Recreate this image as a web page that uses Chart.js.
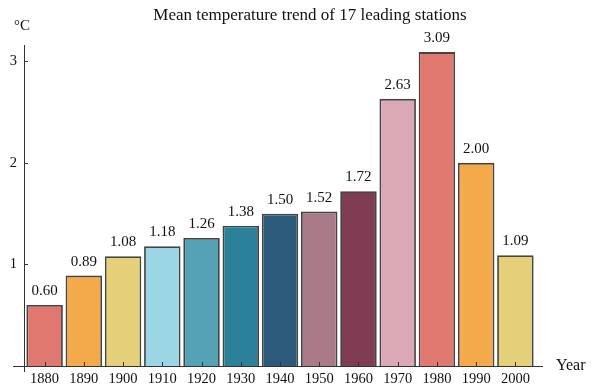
<!DOCTYPE html>
<html>
<head>
<meta charset="utf-8">
<script src="https://cdn.jsdelivr.net/npm/chart.js@4/dist/chart.umd.min.js"></script>
<style>
html,body{margin:0;padding:0;background:#fff;}
#wrap{width:597px;height:390px;position:relative;}
</style>
</head>
<body>
<div id="wrap"><canvas id="c" width="597" height="390"></canvas></div>
<script>
const categories = ["1880","1890","1900","1910","1920","1930","1940","1950","1960","1970","1980","1990","2000"];
const values = [0.60, 0.89, 1.08, 1.18, 1.26, 1.38, 1.50, 1.52, 1.72, 2.63, 3.09, 2.00, 1.09];
const barColors = ["#e07870","#f4a94a","#e5cf78","#9ad6e3","#55a2b6","#2b8199","#2c5a7b","#ab7a89","#7f3c52","#dba8b5","#e07870","#f4a94a","#e5cf78"];
const yTicks = [1, 2, 3];
const titleText = "Mean temperature trend of 17 leading stations";
const yUnit = "°C";
const xName = "Year";

const FONT = "'Liberation Serif','Times New Roman',serif";

const decor = {
  id: 'decor',
  afterDraw(chart) {
    const ctx = chart.ctx;
    const xs = chart.scales.x, ys = chart.scales.y;
    const y0 = ys.getPixelForValue(0);
    const axX = 24;
    ctx.save();
    ctx.strokeStyle = '#333';
    ctx.lineWidth = 1;
    ctx.beginPath();
    ctx.moveTo(axX + 0.5, chart.chartArea.top);
    ctx.lineTo(axX + 0.5, y0 + 6);
    ctx.moveTo(13, Math.round(y0) + 0.5);
    ctx.lineTo(543, Math.round(y0) + 0.5);
    ctx.stroke();
    ctx.beginPath();
    yTicks.forEach(v => {
      const p = Math.round(ys.getPixelForValue(v)) + 0.5;
      ctx.moveTo(axX, p); ctx.lineTo(axX + 4, p);
    });
    categories.forEach((c, i) => {
      const p = Math.round(xs.getPixelForValue(i)) + 0.5;
      ctx.moveTo(p, y0); ctx.lineTo(p, y0 - 4);
    });
    ctx.stroke();
    ctx.fillStyle = '#111';
    ctx.font = '15px ' + FONT;
    ctx.textAlign = 'center';
    ctx.textBaseline = 'alphabetic';
    const meta = chart.getDatasetMeta(0);
    meta.data.forEach((bar, i) => {
      ctx.fillText(values[i].toFixed(2), bar.x, bar.y - 10);
    });
    ctx.font = '17px ' + FONT;
    ctx.textBaseline = 'middle';
    ctx.fillText(titleText, 310, 16);
    ctx.font = '15px ' + FONT;
    ctx.textAlign = 'left';
    ctx.fillText(yUnit, 14, 26);
    ctx.font = '16px ' + FONT;
    ctx.fillText(xName, 556, 366);
    ctx.restore();
  }
};

new Chart(document.getElementById('c'), {
  type: 'bar',
  data: {
    labels: categories,
    datasets: [{
      data: values,
      backgroundColor: barColors,
      borderColor: '#444',
      borderWidth: 1.8,
      categoryPercentage: 1.0,
      barPercentage: 0.93
    }]
  },
  options: {
    responsive: false,
    animation: false,
    devicePixelRatio: 1,
    layout: { padding: { left: 0, right: 62, top: 45, bottom: 0 } },
    plugins: { legend: { display: false }, title: { display: false }, tooltip: { enabled: false } },
    scales: {
      x: {
        offset: true,
        grid: { display: false, drawTicks: false },
        border: { display: false },
        ticks: { color: '#111', font: { family: FONT, size: 14.5 }, padding: 4, maxRotation: 0, autoSkip: false },
        afterFit(s) { s.height = 24; }
      },
      y: {
        min: 0, max: 3.16,
        grid: { display: false, drawTicks: false },
        border: { display: false },
        ticks: { color: '#111', font: { family: FONT, size: 14.5 }, padding: 8 },
        afterBuildTicks(s) { s.ticks = yTicks.map(v => ({ value: v })); },
        afterFit(s) { s.width = 25; }
      }
    }
  },
  plugins: [decor]
});
</script>
</body>
</html>
